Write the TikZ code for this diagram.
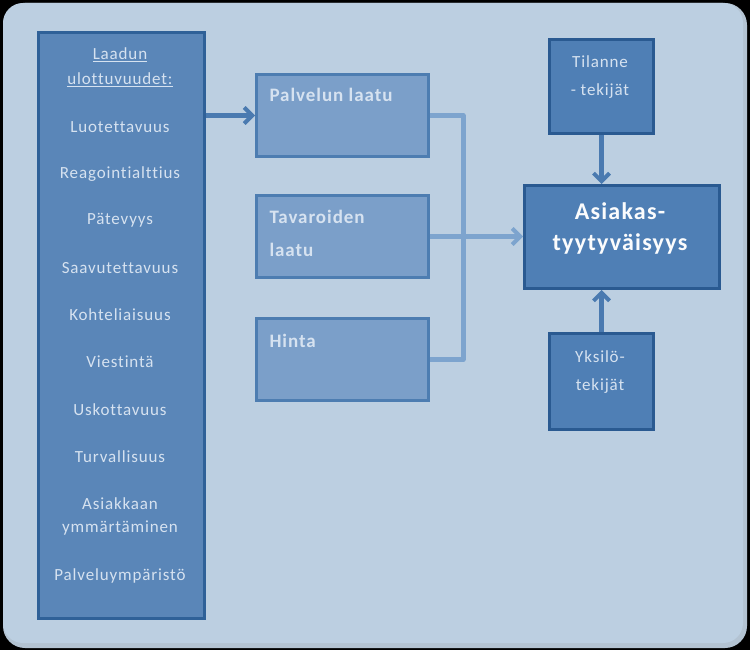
\documentclass[tikz,border=0pt]{standalone}
\usepackage{fontspec}
\setmainfont{Carlito}
\usetikzlibrary{arrows.meta,calc}
\definecolor{bgpanel}{HTML}{BCCFE1}
\definecolor{leftfill}{HTML}{5A86B8}
\definecolor{leftdraw}{HTML}{2F6198}
\definecolor{midfill}{HTML}{7B9FC9}
\definecolor{middraw}{HTML}{4D7DB1}
\definecolor{mainfill}{HTML}{4F7FB5}
\definecolor{maindraw}{HTML}{2A5A91}
\definecolor{lighttext}{HTML}{D6E2F0}
\definecolor{conn}{HTML}{7DA4CE}
\definecolor{darkarrow}{HTML}{4A7AB0}
\newfontfamily\spaced[LetterSpace=5,Ligatures={NoCommon}]{Carlito}
\tikzset{
  x=1pt,y=-1pt,
  leftbox/.style={draw=leftdraw,fill=leftfill,line width=3pt,anchor=north west,inner sep=0pt},
  midbox/.style={draw=middraw,fill=midfill,line width=3pt,anchor=north west,inner sep=0pt},
  mainbox/.style={draw=maindraw,fill=mainfill,line width=3pt,anchor=north west,inner sep=0pt},
  lefttxt/.style={text=lighttext,font=\spaced\fontsize{17}{19}\selectfont,align=center},
  midtxt/.style={text=lighttext,font=\spaced\bfseries\fontsize{19}{33}\selectfont,align=left,anchor=north west},
  smalltxt/.style={text=lighttext,font=\spaced\fontsize{17}{28}\selectfont,align=center},
  bigtxt/.style={text=white!90!lighttext,font=\spaced\bfseries\fontsize{24}{31}\selectfont,align=center},
  conline/.style={draw=conn,line width=5pt},
  darrow/.style={draw=darkarrow,line width=4.5pt,-{Straight Barb[length=8pt,width=16pt,line width=4pt]}},
  larrow/.style={draw=conn,line width=5pt,-{Straight Barb[length=8pt,width=16pt,line width=4pt]}},
}
\begin{document}
\begin{tikzpicture}
\useasboundingbox (0,0) rectangle (750,650);
\fill[black] (0,0) rectangle (750,650);
\fill[bgpanel!85!gray,rounded corners=22pt] (3,3) rectangle (747,648);
\fill[bgpanel,rounded corners=20pt] (3,3) rectangle (743,643);
% left box
\node[leftbox,minimum width=166pt,minimum height=586pt] (L) at (37,31) {};
\node[lefttxt] (t0) at (120,55) {\underline{Laadun}};
\node[lefttxt] (t0b) at (120,80) {\underline{ulottuvuudet:}};
\node[lefttxt] (t1) at (120,127) {Luotettavuus};
\node[lefttxt] (t2) at (120,174) {Reagointialttius};
\node[lefttxt] (t3) at (120,220) {Pätevyys};
\node[lefttxt] (t4) at (120,268) {Saavutettavuus};
\node[lefttxt] (t5) at (120,315) {Kohteliaisuus};
\node[lefttxt] (t6) at (120,362) {Viestintä};
\node[lefttxt] (t7) at (120,410) {Uskottavuus};
\node[lefttxt] (t8) at (120,457) {Turvallisuus};
\node[lefttxt] (t9) at (120,516) {Asiakkaan\\[4pt]ymmärtäminen};
\node[lefttxt] (t10) at (120,576) {Palveluympäristö};
% middle boxes
\node[midbox,minimum width=172pt,minimum height=82pt] (P) at (255,73) {};
\node[midtxt] (Pt) at (266,85) {Palvelun laatu};
\node[midbox,minimum width=172pt,minimum height=82pt] (T) at (255,194) {};
\node[midtxt] (Tt) at (266,207) {Tavaroiden\\laatu};
\node[midbox,minimum width=172pt,minimum height=82pt] (H) at (255,317) {};
\node[midtxt] (Ht) at (266,331) {Hinta};
% right boxes
\node[mainbox,minimum width=195pt,minimum height=103pt] (A) at (523,184) {};
\node[bigtxt] (At) at (620,228) {Asiakas-\\tyytyväisyys};
\node[mainbox,minimum width=104pt,minimum height=94pt] (Ti) at (548,38) {};
\node[smalltxt] (Tit) at (600,77) {Tilanne\\- tekijät};
\node[mainbox,minimum width=104pt,minimum height=96pt] (Y) at (548,332) {};
\node[smalltxt] (Yt) at (600,372) {Yksilö-\\tekijät};
% connectors
\coordinate (J) at (T.east -| 463,0);
\draw[conline,line join=round] (P.east) -- (P.east -| J) -- (H.east -| J) -- (H.east);
\draw[conline] (T.east) -- (J);
\draw[larrow] (J) -- (A.west |- J);
\draw[darrow] (L.east |- P.west) -- (P.west);
\draw[darrow] (Ti.south) -- (Ti.south |- A.north);
\draw[darrow] (Y.north) -- (Y.north |- A.south);
\end{tikzpicture}
\end{document}
